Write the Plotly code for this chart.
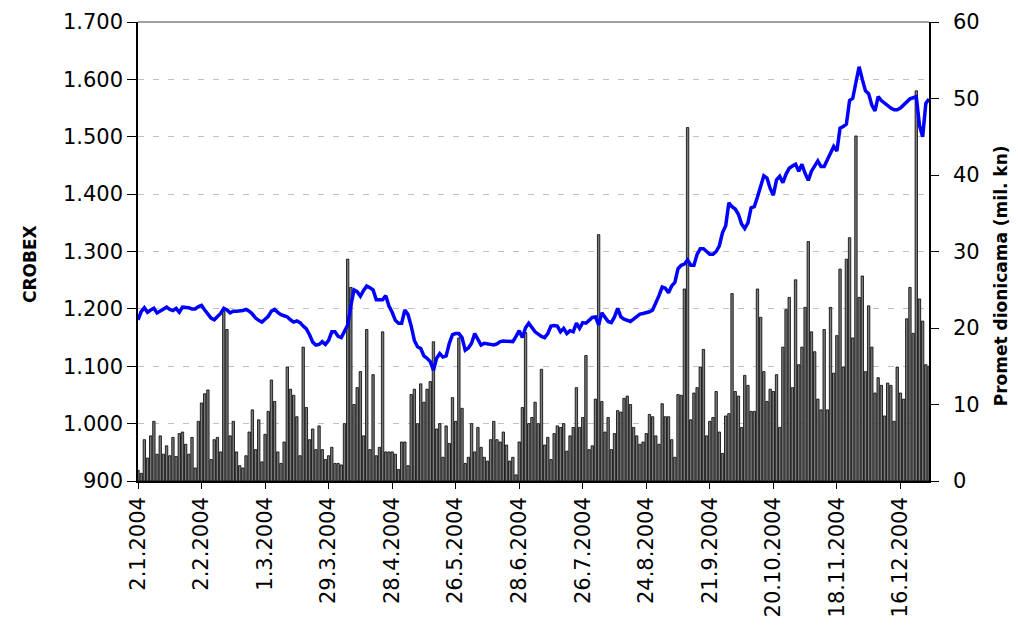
import plotly.graph_objects as go

# ---- data -------------------------------------------------------------
tick_labels = ["2.1.2004", "2.2.2004", "1.3.2004", "29.3.2004", "28.4.2004",
               "26.5.2004", "28.6.2004", "26.7.2004", "24.8.2004", "21.9.2004",
               "20.10.2004", "18.11.2004", "16.12.2004"]
tick_days = [0, 20, 40, 60, 80, 100, 120, 140, 160, 180, 200, 220, 240]

crobex = [
    1181, 1195, 1202, 1194, 1198, 1201, 1193, 1196, 1199, 1203,
    1199, 1197, 1201, 1194, 1203, 1203, 1202, 1200, 1200, 1204,
    1206, 1198, 1190, 1184, 1181, 1187, 1192, 1201, 1198, 1193,
    1196, 1196, 1196, 1197, 1199, 1196, 1191, 1184, 1180, 1177,
    1182, 1187, 1196, 1199, 1194, 1190, 1188, 1186, 1181, 1177,
    1179, 1176, 1170, 1165, 1155, 1142, 1137, 1138, 1143, 1138,
    1145, 1160, 1160, 1152, 1150, 1162, 1172, 1205, 1233, 1230,
    1222, 1232, 1240, 1237, 1233, 1216, 1216, 1216, 1223, 1205,
    1194, 1180, 1175, 1175, 1198, 1190, 1170, 1145, 1134, 1131,
    1118, 1114, 1108, 1093, 1114, 1122, 1116, 1118, 1140, 1155,
    1157, 1157, 1150, 1128, 1132, 1140, 1157, 1148, 1137, 1140,
    1139, 1137, 1137, 1139, 1143, 1144, 1144, 1143, 1143, 1152,
    1162, 1150, 1167, 1175, 1168, 1160, 1156, 1152, 1150, 1157,
    1170, 1171, 1170, 1160, 1166, 1157, 1162, 1160, 1175, 1166,
    1176, 1175, 1180, 1185, 1186, 1172, 1193, 1185, 1178, 1176,
    1186, 1201, 1186, 1182, 1180, 1178, 1182, 1187, 1191, 1192,
    1193, 1195, 1198, 1210, 1223, 1238, 1236, 1228, 1240, 1246,
    1270, 1276, 1278, 1285, 1276, 1276, 1295, 1305, 1305, 1300,
    1295, 1295, 1300, 1310, 1333, 1345, 1385, 1378, 1374, 1365,
    1348, 1340, 1350, 1376, 1378, 1395, 1415, 1432, 1428, 1410,
    1398, 1425, 1431, 1420, 1435, 1445, 1449, 1452, 1440, 1452,
    1436, 1424, 1440, 1450, 1458, 1448, 1448, 1460, 1472, 1483,
    1475, 1515, 1518, 1522, 1563, 1567, 1595, 1622, 1600, 1580,
    1575, 1555, 1545, 1570, 1563, 1558, 1555, 1550, 1547, 1547,
    1550, 1555, 1562, 1566, 1568, 1570, 1520, 1500, 1558, 1566,
]

promet = [
    1.4, 1.0, 5.4, 3.0, 5.9, 7.8, 3.5, 5.9, 3.5, 4.6,
    3.3, 5.7, 3.2, 6.2, 6.4, 4.8, 3.5, 5.7, 1.7, 7.8,
    10.2, 11.4, 11.9, 2.8, 5.4, 5.7, 3.8, 22.2, 19.8, 5.9,
    7.8, 3.8, 2.0, 1.7, 3.3, 6.4, 9.3, 4.1, 8.0, 2.5,
    6.1, 9.1, 13.2, 10.4, 3.8, 2.3, 5.1, 14.9, 12.0, 11.2,
    8.4, 3.3, 17.5, 9.6, 5.4, 6.8, 4.1, 7.2, 4.1, 2.8,
    3.3, 4.4, 2.3, 2.3, 2.1, 7.5, 29.0, 25.3, 10.0, 12.2,
    14.3, 5.9, 19.8, 4.1, 13.9, 3.3, 4.4, 19.5, 3.8, 3.8,
    3.8, 3.5, 1.5, 5.1, 5.1, 2.0, 11.3, 12.0, 7.5, 12.7,
    10.3, 12.0, 13.0, 18.2, 6.8, 7.5, 3.1, 7.2, 4.9, 10.9,
    7.8, 18.7, 9.5, 2.3, 3.1, 7.5, 3.8, 7.0, 4.4, 3.1,
    2.6, 5.4, 7.8, 5.4, 5.1, 6.4, 4.7, 2.6, 3.1, 0.8,
    5.1, 9.6, 19.4, 7.5, 8.3, 10.3, 7.5, 14.6, 4.7, 5.7,
    2.8, 6.2, 7.2, 7.0, 7.5, 3.9, 5.9, 7.0, 12.2, 7.0,
    8.3, 16.4, 4.1, 4.6, 10.7, 32.2, 10.4, 6.4, 8.3, 4.1,
    6.2, 9.2, 9.0, 10.8, 11.1, 10.0, 7.0, 5.9, 4.8, 5.1,
    6.2, 8.7, 8.4, 5.9, 4.8, 10.1, 8.4, 8.4, 5.4, 3.1,
    11.3, 11.2, 25.1, 46.2, 8.0, 11.5, 12.2, 14.9, 17.2, 5.9,
    7.8, 8.3, 11.7, 6.4, 3.6, 8.5, 8.8, 24.5, 11.7, 11.1,
    7.0, 13.8, 12.5, 9.1, 9.1, 25.1, 21.4, 14.3, 10.4, 12.0,
    11.7, 13.9, 7.0, 17.5, 22.4, 24.0, 12.2, 26.3, 15.2, 17.5,
    22.7, 31.3, 19.5, 16.9, 10.7, 9.3, 19.8, 9.3, 22.7, 14.1,
    19.0, 27.7, 14.9, 29.0, 31.8, 18.7, 45.1, 24.0, 26.8, 14.3,
    22.9, 17.5, 11.5, 13.5, 12.5, 8.5, 12.8, 12.5, 7.8, 14.9,
    11.5, 10.7, 21.2, 25.3, 19.3, 51.0, 23.8, 20.9, 15.2, 15.0,
]

crobex_ticks = [900, 1000, 1100, 1200, 1300, 1400, 1500, 1600, 1700]
crobex_tick_text = ["900", "1.000", "1.100", "1.200", "1.300", "1.400",
                    "1.500", "1.600", "1.700"]
promet_ticks = [0, 10, 20, 30, 40, 50, 60]

left_title = "CROBEX"
right_title = "Promet dionicama (mil. kn)"

days = list(range(len(crobex)))

# ---- figure -----------------------------------------------------------
FONT = "DejaVu Sans, Verdana, sans-serif"

fig = go.Figure()
fig.add_trace(go.Bar(
    x=days, y=promet, yaxis="y", width=0.75,
    marker=dict(color="#7a7a7a", line=dict(color="#000000", width=0.8)),
    showlegend=False,
))
fig.add_trace(go.Scatter(
    x=days, y=crobex, yaxis="y2", mode="lines",
    line=dict(color="#0000FF", width=3.5),
    showlegend=False,
))

# page body has an 8px margin, so the figure is offset by 8px
fig.update_layout(
    width=1018, height=628,
    margin=dict(l=129.5, r=96.5, t=14, b=155, autoexpand=False),
    paper_bgcolor="white", plot_bgcolor="white",
    font=dict(family=FONT, size=21, color="black"),
    xaxis=dict(
        range=[0, len(days) - 1],
        tickmode="array", tickvals=tick_days, ticktext=tick_labels,
        tickangle=-90, ticks="outside", ticklen=6, tickcolor="black",
        showline=True, linecolor="black", linewidth=1.5,
        showgrid=False, zeroline=False,
        tickfont=dict(family=FONT, size=21),
    ),
    yaxis=dict(
        side="right", range=[0, 60],
        tickmode="array", tickvals=promet_ticks,
        ticks="outside", ticklen=8, tickcolor="black",
        ticklabelstandoff=10,
        showline=True, linecolor="black", linewidth=1.5,
        showgrid=False, zeroline=False,
        tickfont=dict(family=FONT, size=21),
    ),
    yaxis2=dict(
        overlaying="y", side="left", range=[900, 1700],
        tickmode="array", tickvals=crobex_ticks, ticktext=crobex_tick_text,
        ticks="outside", ticklen=9, tickcolor="black",
        showline=True, linecolor="black", linewidth=1.5,
        showgrid=True, gridcolor="#c0c0c0", gridwidth=1, griddash="6px,9px",
        zeroline=False,
        tickfont=dict(family=FONT, size=21),
    ),
    bargap=0.2,
    shapes=[dict(type="line", xref="paper", yref="paper",
                 x0=0, x1=1, y0=1, y1=1,
                 line=dict(color="#808080", width=1.5))],
    annotations=[
        dict(text="<b>" + left_title + "</b>", xref="paper", yref="paper",
             x=-0.1357, y=0.472, xanchor="center", yanchor="middle",
             textangle=-90, showarrow=False,
             font=dict(family=FONT, size=17, color="black")),
        dict(text="<b>" + right_title + "</b>", xref="paper", yref="paper",
             x=1.0903, y=0.447, xanchor="center", yanchor="middle",
             textangle=-90, showarrow=False,
             font=dict(family=FONT, size=17, color="black")),
    ],
)

fig.write_html("out.html")
